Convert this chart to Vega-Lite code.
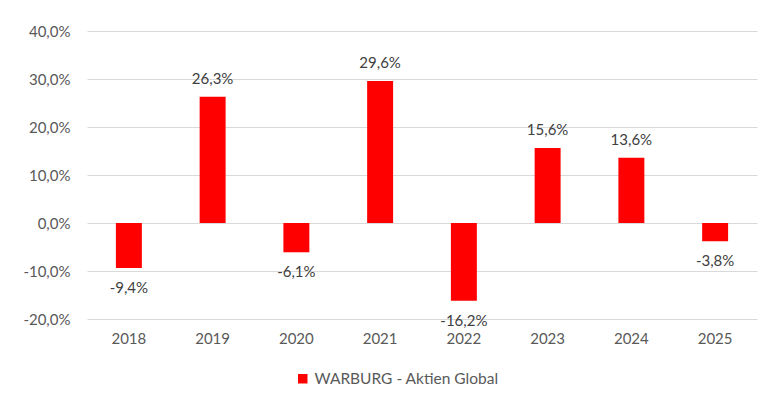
{
  "$schema": "https://vega.github.io/schema/vega-lite/v6.json",
  "width": 670,
  "height": 288,
  "autosize": {"type": "none"},
  "padding": {"left": 87, "top": 31, "right": 9, "bottom": 82},
  "background": "white",
  "config": {
    "view": {"stroke": null},
    "font": "Lato",
    "locale": {
      "number": {"decimal": ",", "thousands": ".", "grouping": [3], "currency": ["", " €"], "minus": "-"}
    }
  },
  "data": {
    "values": [
      {"year": "2018", "value": -0.094, "series": "WARBURG - Aktien Global"},
      {"year": "2019", "value": 0.263, "series": "WARBURG - Aktien Global"},
      {"year": "2020", "value": -0.061, "series": "WARBURG - Aktien Global"},
      {"year": "2021", "value": 0.296, "series": "WARBURG - Aktien Global"},
      {"year": "2022", "value": -0.162, "series": "WARBURG - Aktien Global"},
      {"year": "2023", "value": 0.156, "series": "WARBURG - Aktien Global"},
      {"year": "2024", "value": 0.136, "series": "WARBURG - Aktien Global"},
      {"year": "2025", "value": -0.038, "series": "WARBURG - Aktien Global"}
    ]
  },
  "encoding": {
    "x": {
      "field": "year",
      "type": "ordinal",
      "scale": {"paddingInner": 0.69, "paddingOuter": 0.345},
      "axis": {
        "title": null,
        "labelAngle": 0,
        "domain": false,
        "ticks": false,
        "labelFontSize": 15,
        "labelColor": "#595959",
        "labelPadding": 12,
        "labelFont": "Lato"
      }
    }
  },
  "layer": [
    {
      "mark": {"type": "bar", "color": "#FF0000"},
      "encoding": {
        "y": {
          "field": "value",
          "type": "quantitative",
          "scale": {"domain": [-0.2, 0.4], "nice": false},
          "axis": {
            "title": null,
            "values": [-0.2, -0.1, 0, 0.1, 0.2, 0.3, 0.4],
            "format": ".1%",
            "domain": false,
            "ticks": false,
            "gridColor": "#D9D9D9",
            "gridWidth": 1,
            "labelFontSize": 15,
            "labelColor": "#595959",
            "labelPadding": 17,
            "labelFont": "Lato"
          }
        },
        "color": {
          "field": "series",
          "type": "nominal",
          "scale": {"range": ["#FF0000"]},
          "legend": {
            "title": null,
            "orient": "none",
            "legendX": 208,
            "legendY": 340,
            "symbolType": "square",
            "symbolSize": 90,
            "symbolStrokeWidth": 0,
            "labelFontSize": 15.5,
            "labelColor": "#595959",
            "labelFont": "Lato",
            "labelLimit": 0
          }
        }
      }
    },
    {
      "transform": [{"filter": "datum.value >= 0"}],
      "mark": {"type": "text", "fontSize": 15, "color": "#404040", "font": "Lato", "baseline": "alphabetic", "dy": -13},
      "encoding": {
        "y": {"field": "value", "type": "quantitative"},
        "text": {"field": "value", "type": "quantitative", "format": ".1%"}
      }
    },
    {
      "transform": [{"filter": "datum.value < 0"}],
      "mark": {"type": "text", "fontSize": 15, "color": "#404040", "font": "Lato", "baseline": "top", "dy": 13},
      "encoding": {
        "y": {"field": "value", "type": "quantitative"},
        "text": {"field": "value", "type": "quantitative", "format": ".1%"}
      }
    }
  ]
}
